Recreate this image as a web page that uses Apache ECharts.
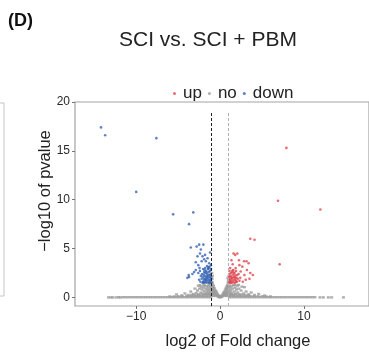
<!DOCTYPE html>
<html>
<head>
<meta charset="utf-8">
<script src="https://cdn.jsdelivr.net/npm/echarts@6/dist/echarts.min.js"></script>
<style>html,body{margin:0;padding:0;background:#fff}#c{width:369px;height:356px}</style>
</head>
<body>
<div id="c"></div>
<script>
const xTicks = [-10, 0, 10];
const yTicks = [0, 5, 10, 15, 20];
const legendNames = ['up', 'no', 'down'];

const upPoints = [
  [7.9,15.3],[6.9,9.9],[11.95,9.0],[3.6,6.0],[4.1,5.9],[7.1,3.4],
  [1.6,4.5],[2.05,4.5],[1.8,4.35],[1.35,3.8],[2.25,3.8],[2.85,3.7],[3.15,3.7],[3.4,3.5],[2.65,3.15],[1.85,3.0],
  [2.45,2.65],[3.6,2.5],[3.9,2.3],[3.05,1.8],[3.2,2.8],[2.3,3.3],[1.5,3.4],[2.9,2.3],[1.2,3.0],[2.7,1.6],[3.5,1.9],[2.4,2.0],
  [1.05,1.5],[1.08,1.9],[1.1,2.4],[1.12,2.7],[1.15,1.6],[1.2,2.1],[1.25,1.45],[1.28,2.5],[1.3,1.8],[1.35,2.2],
  [1.4,1.5],[1.42,2.6],[1.45,1.95],[1.5,1.6],[1.55,2.35],[1.58,2.8],[1.6,1.75],[1.65,2.1],[1.7,1.5],[1.72,2.5],
  [1.78,1.85],[1.82,2.25],[1.85,1.55],[1.9,2.7],[1.95,2.0],[2.0,1.6],[2.05,2.3],[1.18,1.75],[1.38,2.0],[1.62,2.55],
  [1.88,1.7],[2.1,1.9],[2.2,2.4],[2.3,1.7],[1.03,2.2],[1.48,2.75],[1.75,2.05],[1.27,1.6]
];

const downPoints = [
  [-14.2,17.4],[-13.7,16.6],[-7.6,16.3],[-10.0,10.8],[-5.6,8.5],[-3.2,8.7],[-3.7,7.5],[-3.5,5.1],
  [-2.5,5.4],[-2.0,5.4],[-2.3,4.9],[-2.8,5.2],[-1.8,4.35],[-2.4,4.5],[-2.1,4.2],[-2.7,4.2],[-2.2,3.7],[-1.7,3.7],
  [-2.9,2.8],[-3.7,2.1],[-3.9,2.0],[-1.3,3.5],[-3.1,2.6],[-3.75,2.3],[-2.6,3.3],[-1.5,4.0],[-2.9,3.6],[-1.2,4.6],
  [-3.3,2.4],[-2.45,3.0],[-1.9,3.9],[-1.4,3.1],
  [-1.05,1.5],[-1.1,1.9],[-1.12,2.4],[-1.08,2.9],[-1.15,1.6],[-1.2,2.1],[-1.22,2.7],[-1.25,1.45],[-1.28,3.1],
  [-1.3,1.8],[-1.33,2.3],[-1.36,2.6],[-1.4,1.5],[-1.42,2.0],[-1.45,2.9],[-1.5,1.7],[-1.52,2.4],[-1.55,3.2],
  [-1.58,1.9],[-1.6,2.2],[-1.63,1.5],[-1.66,2.7],[-1.7,2.0],[-1.72,1.6],[-1.75,2.5],[-1.78,3.0],[-1.8,1.8],
  [-1.84,2.2],[-1.88,1.5],[-1.9,2.6],[-1.93,1.9],[-1.96,2.35],[-2.0,1.65],[-2.03,2.9],[-2.06,2.1],[-2.1,1.5],
  [-1.15,2.25],[-1.18,1.75],[-1.38,2.95],[-1.48,2.15],[-1.62,2.55],[-1.86,2.8],[-2.15,2.4],[-2.2,1.9],[-2.3,2.2],
  [-2.35,1.6],[-2.5,1.8],[-2.6,2.5],[-2.4,2.7],[-1.07,2.05],[-1.27,1.6],[-1.68,1.75],[-1.97,1.55],[-1.1,3.3]
];

const noBandLeft = [
  [-13.3,0],[-13.0,0],[-12.8,0],[-12.4,0],[-12.1,0.02],[-11.9,0],
  [-11.6,0.02],[-11.3,0.02],[-11.0,0.02],[-10.7,0.02],[-10.4,0.02],[-10.1,0.02],[-9.8,0.02],[-9.5,0.02],[-9.2,0.02],
  [-8.9,0.02],[-8.6,0.02],[-8.3,0.02],[-8.0,0.02],[-7.7,0.02],[-7.4,0.02],[-7.1,0.02],[-6.8,0.02],[-6.5,0.02],
  [-6.2,0.02],[-5.9,0.02],[-5.6,0.02],[-5.3,0.02],[-5.0,0.02],[-4.7,0.02],[-4.4,0.02],[-4.1,0.02],[-3.8,0.02],
  [-3.5,0.02],[-3.2,0.02],[-2.9,0.02],[-2.6,0.02],[-2.3,0.02],[-2.0,0.02],[-1.7,0.02],[-1.4,0.02],[-1.1,0.02],
  [-6.0,0.1],[-5.5,0.1],[-5.0,0.12],[-4.5,0.12],[-4.0,0.12],[-3.6,0.14],[-3.2,0.14],[-2.8,0.15],[-2.4,0.15],
  [-2.0,0.15],[-1.6,0.15],[-1.2,0.15],[-3.4,0.25],[-3.0,0.25],[-2.6,0.28],[-2.2,0.28],[-1.8,0.3],[-1.4,0.3],[-1.1,0.3]
];

const noBandRight = [
  [1.1,0.02],[1.4,0.02],[1.7,0.02],[2.0,0.02],[2.3,0.02],[2.6,0.02],[2.9,0.02],[3.2,0.02],[3.5,0.02],[3.8,0.02],
  [4.1,0.02],[4.4,0.02],[4.7,0.02],[5.0,0.02],[5.3,0.02],[5.6,0.02],[5.9,0.02],[6.2,0.02],[6.5,0.02],[6.8,0.02],
  [7.1,0.02],[7.4,0.02],[7.7,0.02],[8.0,0.02],[8.3,0.02],[8.6,0.02],[8.9,0.02],[9.2,0.02],[9.5,0.02],[9.8,0.02],
  [10.1,0.02],[10.4,0.02],[10.7,0.02],[11.0,0.02],[11.3,0.02],
  [11.9,0],[12.3,0],[12.9,0],[13.3,0],[14.7,0],
  [1.2,0.15],[1.6,0.15],[2.0,0.15],[2.4,0.15],[2.8,0.15],[3.2,0.14],[3.6,0.14],[4.0,0.12],[4.5,0.12],[5.0,0.12],
  [5.5,0.1],[6.0,0.1],[1.1,0.3],[1.4,0.3],[1.8,0.3],[2.2,0.28],[2.6,0.28],[3.0,0.25],[3.4,0.25]
];

const noCenter = [
  [-1.05,1.2],[-1.1,0.9],[-1.15,0.6],[-1.2,1.1],[-1.25,0.4],[-1.3,0.8],[-1.35,1.25],[-1.4,0.55],[-1.45,1.0],
  [-1.5,0.3],[-1.55,0.75],[-1.6,1.15],[-1.65,0.5],[-1.7,0.9],[-1.8,0.35],[-1.85,1.2],[-1.9,0.65],[-2.0,1.0],
  [-2.05,0.4],[-2.15,0.8],[-2.25,1.1],[-2.3,0.5],[-2.45,0.9],[-2.55,0.3],[-2.6,1.2],[-2.7,0.7],[-2.85,0.45],
  [-3.0,0.9],[-3.2,0.35],[-3.5,0.6],[-3.8,0.25],[-4.2,0.4],[-4.6,0.2],[-5.2,0.3],[-2.4,1.25],[-1.95,1.28],
  [-0.95,1.9],[-0.97,1.6],[-0.92,2.2],[-0.98,2.5],[-0.9,1.3],[-0.88,0.9],[-0.95,1.5],[-0.8,0.6],[-0.78,1.2],
  [-0.75,0.3],[-0.7,0.95],[-0.68,0.5],[-0.62,0.75],[-0.6,0.2],[-0.55,0.45],[-0.5,0.65],[-0.45,0.3],[-0.4,0.5],
  [-0.35,0.15],[-0.3,0.3],[-0.25,0.1],[-0.2,0.2],[-0.15,0.05],[-0.1,0.1],[-0.05,0.02],[0,0.05],
  [-0.93,1.05],[-0.87,0.4],[-0.83,0.75],[-0.72,0.15],[-0.65,0.35],[-0.96,0.7],[-0.99,0.2],[-0.91,0.5],[-0.82,1.0],[-0.76,0.85],
  [0.05,0.03],[0.1,0.1],[0.15,0.05],[0.2,0.18],[0.25,0.1],[0.3,0.28],[0.35,0.15],[0.4,0.45],[0.45,0.3],[0.5,0.6],
  [0.55,0.4],[0.6,0.2],[0.62,0.8],[0.68,0.55],[0.72,1.0],[0.75,0.35],[0.8,0.7],[0.82,1.15],[0.86,0.45],[0.9,1.3],
  [0.92,0.9],[0.95,1.55],[0.97,0.6],[0.98,1.8],[0.99,0.25],[0.85,0.2],[0.78,0.9],[0.7,0.15],[0.93,2.0],[0.96,1.1],
  [1.05,1.2],[1.1,0.8],[1.15,0.5],[1.2,1.0],[1.25,0.3],[1.3,0.7],[1.35,1.15],[1.4,0.45],[1.5,0.9],[1.55,0.25],
  [1.6,1.25],[1.7,0.6],[1.8,1.0],[1.85,0.35],[1.95,0.8],[2.05,1.2],[2.1,0.5],[2.25,0.9],[2.35,0.3],[2.5,0.7],
  [2.6,1.1],[2.8,0.4],[2.9,1.05],[3.1,0.6],[3.4,0.3],[3.7,0.5],[4.1,0.25],[4.6,0.35],[5.3,0.2],[2.2,1.28],[1.75,1.28]
];

const noPoints = noBandLeft.concat(noBandRight, noCenter);

const FONT = 'Liberation Sans, Arial, sans-serif';
const chart = echarts.init(document.getElementById('c'), null, {renderer: 'canvas'});
const minus = v => String(v).replace('-', '\u2212');

chart.setOption({
  animation: false,
  backgroundColor: '#fff',
  textStyle: {fontFamily: FONT},
  grid: {left: 75, top: 102, right: -2, bottom: 50, show: true, borderColor: '#a3a3a3', borderWidth: 1.2, containLabel: false},
  legend: {
    data: [
      {name: 'up', icon: 'circle'},
      {name: 'no', icon: 'circle'},
      {name: 'down', icon: 'circle'}
    ],
    left: 168, top: 80, itemWidth: 3, itemHeight: 3, itemGap: 6,
    textStyle: {fontSize: 17, color: '#222', fontFamily: FONT, padding: [0, 0, 0, 2]}
  },
  xAxis: {
    type: 'value', min: -17.3, max: 17.75, position: 'bottom',
    splitLine: {show: false},
    axisLine: {show: false, onZero: false},
    axisTick: {show: true, length: 3, lineStyle: {color: '#777'}, customValues: xTicks},
    axisLabel: {customValues: xTicks, fontSize: 12, color: '#2a2a2a', margin: 5, fontFamily: FONT, formatter: minus}
  },
  yAxis: {
    type: 'value', min: -0.88, max: 20, position: 'left',
    splitLine: {show: false},
    axisLine: {show: false, onZero: false},
    axisTick: {show: true, length: 3, lineStyle: {color: '#777'}, customValues: yTicks},
    axisLabel: {customValues: yTicks, fontSize: 12, color: '#2a2a2a', margin: 5, fontFamily: FONT}
  },
  graphic: [
    {type: 'text', left: 8, top: 12, style: {text: '(D)', font: 'bold 18px ' + FONT, fill: '#111'}},
    {type: 'text', x: 208, y: 40, style: {text: 'SCI vs. SCI + PBM', font: '21px ' + FONT, fill: '#222', textAlign: 'center', textVerticalAlign: 'middle'}},
    {type: 'text', x: 238, y: 341, style: {text: 'log2 of Fold change', font: '16.5px ' + FONT, fill: '#222', textAlign: 'center', textVerticalAlign: 'middle'}},
    {type: 'text', x: 45, y: 191, rotation: Math.PI / 2, style: {text: '\u2212log10 of pvalue', font: '16.5px ' + FONT, fill: '#222', textAlign: 'center', textVerticalAlign: 'middle'}},
    {type: 'rect', shape: {x: -20, y: 103, width: 24, height: 193}, style: {fill: 'none', stroke: '#c4c4c4', lineWidth: 1}}
  ],
  series: [
    {name: 'up', type: 'scatter', data: upPoints, symbolSize: 2.6, z: 4, itemStyle: {color: '#e0454d'}},
    {name: 'no', type: 'scatter', data: noPoints, symbol: 'rect', symbolSize: [3, 2.4], z: 2, itemStyle: {color: '#9b9b9b'},
      markLine: {
        silent: true, symbol: 'none', label: {show: false},
        data: [
          [{coord: [-1, -0.88], lineStyle: {color: '#222', type: [3, 2], width: 1}}, {coord: [-1, 19]}],
          [{coord: [1, -0.88], lineStyle: {color: '#b0b0b0', type: [3, 2], width: 1}}, {coord: [1, 19]}]
        ]
      }
    },
    {name: 'down', type: 'scatter', data: downPoints, symbolSize: 2.6, z: 4, itemStyle: {color: '#3463b3'}}
  ]
});
</script>
</body>
</html>
